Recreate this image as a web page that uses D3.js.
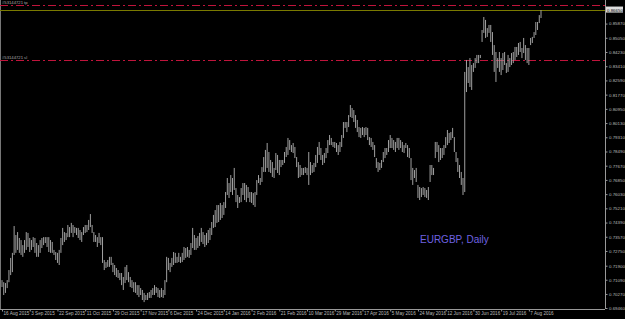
<!DOCTYPE html>
<html>
<head>
<meta charset="utf-8">
<script src="https://cdn.jsdelivr.net/npm/d3@7"></script>
<style>
  body { margin: 0; background: #000; }
  svg { display: block; }
</style>
</head>
<body>
<svg id="root"></svg>
<script>
// EURGBP daily bars (high / low), one entry per bar
const high = [
  0.7107,0.7095,0.7090,0.7107,0.7165,0.7235,0.7264,0.7419,0.7367,0.7384,
  0.7350,0.7338,0.7309,0.7338,0.7384,0.7379,0.7350,0.7338,0.7355,0.7350,
  0.7321,0.7309,0.7338,0.7350,0.7355,0.7355,0.7355,0.7355,0.7338,0.7327,
  0.7281,0.7269,0.7264,0.7281,0.7350,0.7408,0.7384,0.7379,0.7425,0.7413,
  0.7437,0.7425,0.7413,0.7408,0.7408,0.7396,0.7384,0.7413,0.7425,0.7425,
  0.7454,0.7488,0.7425,0.7384,0.7367,0.7355,0.7379,0.7355,0.7355,0.7223,
  0.7211,0.7223,0.7241,0.7241,0.7206,0.7194,0.7177,0.7165,0.7148,0.7148,
  0.7125,0.7183,0.7194,0.7153,0.7125,0.7107,0.7095,0.7095,0.7078,0.7078,
  0.7061,0.7050,0.7033,0.7021,0.7033,0.7038,0.7050,0.7061,0.7078,0.7067,
  0.7061,0.7050,0.7061,0.7050,0.7107,0.7241,0.7235,0.7206,0.7235,0.7269,
  0.7264,0.7241,0.7264,0.7241,0.7264,0.7298,0.7292,0.7298,0.7281,0.7321,
  0.7408,0.7367,0.7350,0.7361,0.7379,0.7408,0.7384,0.7367,0.7379,0.7396,
  0.7408,0.7442,0.7483,0.7511,0.7540,0.7540,0.7552,0.7540,0.7557,0.7615,
  0.7696,0.7667,0.7713,0.7696,0.7754,0.7638,0.7598,0.7586,0.7638,0.7667,
  0.7667,0.7656,0.7644,0.7615,0.7615,0.7609,0.7615,0.7684,0.7713,0.7696,
  0.7759,0.7817,0.7858,0.7898,0.7846,0.7800,0.7788,0.7754,0.7840,0.7829,
  0.7800,0.7800,0.7800,0.7846,0.7875,0.7927,0.7915,0.7886,0.7898,0.7875,
  0.7817,0.7788,0.7771,0.7754,0.7754,0.7759,0.7754,0.7846,0.7788,0.7771,
  0.7783,0.7829,0.7875,0.7904,0.7869,0.7829,0.7840,0.7869,0.7915,0.7944,
  0.7927,0.7904,0.7904,0.7898,0.7886,0.7904,0.7944,0.8019,0.8019,0.8019,
  0.8059,0.8117,0.8100,0.8088,0.8059,0.8031,0.7990,0.7985,0.7990,0.7985,
  0.7990,0.7985,0.7932,0.7927,0.7904,0.7886,0.7811,0.7788,0.7783,0.7800,
  0.7846,0.7869,0.7869,0.7915,0.7944,0.7927,0.7915,0.7904,0.7927,0.7927,
  0.7915,0.7904,0.7886,0.7898,0.7886,0.7869,0.7811,0.7754,0.7742,0.7754,
  0.7656,0.7644,0.7638,0.7644,0.7638,0.7627,0.7644,0.7771,0.7771,0.7754,
  0.7904,0.7904,0.7886,0.7869,0.7869,0.7886,0.7932,0.7973,0.7956,0.7961,
  0.7985,0.7932,0.7846,0.7811,0.7771,0.7731,0.7696,0.8308,0.8377,0.8336,
  0.8388,0.8348,0.8359,0.8388,0.8406,0.8406,0.8406,0.8550,0.8625,0.8608,
  0.8561,0.8579,0.8579,0.8538,0.8463,0.8423,0.8388,0.8423,0.8388,0.8417,
  0.8423,0.8359,0.8406,0.8388,0.8417,0.8423,0.8452,0.8452,0.8475,0.8481,
  0.8446,0.8504,0.8463,0.8446,0.8446,0.8504,0.8510,0.8538,0.8596,0.8596,
  0.8636,0.8665
];
const low = [
  0.7067,0.7021,0.7033,0.7061,0.7095,0.7136,0.7153,0.7252,0.7264,0.7281,
  0.7264,0.7252,0.7241,0.7264,0.7281,0.7298,0.7269,0.7281,0.7298,0.7264,
  0.7241,0.7241,0.7264,0.7292,0.7309,0.7321,0.7298,0.7269,0.7264,0.7264,
  0.7252,0.7223,0.7206,0.7194,0.7264,0.7309,0.7327,0.7338,0.7355,0.7355,
  0.7379,0.7355,0.7379,0.7367,0.7350,0.7338,0.7327,0.7367,0.7379,0.7384,
  0.7396,0.7413,0.7379,0.7327,0.7327,0.7298,0.7321,0.7309,0.7206,0.7165,
  0.7177,0.7183,0.7183,0.7194,0.7153,0.7136,0.7125,0.7119,0.7107,0.7078,
  0.7050,0.7090,0.7107,0.7095,0.7067,0.7061,0.7038,0.7033,0.7021,0.7009,
  0.7021,0.6992,0.6980,0.6992,0.6992,0.7004,0.7004,0.7021,0.7021,0.7033,
  0.7009,0.7004,0.7009,0.7004,0.7021,0.7095,0.7165,0.7153,0.7183,0.7194,
  0.7206,0.7206,0.7211,0.7206,0.7211,0.7223,0.7235,0.7241,0.7235,0.7252,
  0.7292,0.7281,0.7281,0.7292,0.7304,0.7327,0.7315,0.7298,0.7309,0.7321,
  0.7338,0.7367,0.7408,0.7413,0.7437,0.7442,0.7454,0.7465,0.7483,0.7523,
  0.7598,0.7581,0.7615,0.7598,0.7627,0.7557,0.7523,0.7552,0.7557,0.7598,
  0.7569,0.7557,0.7581,0.7557,0.7552,0.7540,0.7529,0.7598,0.7667,0.7656,
  0.7673,0.7731,0.7731,0.7754,0.7731,0.7725,0.7702,0.7696,0.7742,0.7725,
  0.7713,0.7759,0.7771,0.7783,0.7817,0.7829,0.7858,0.7846,0.7840,0.7811,
  0.7759,0.7696,0.7702,0.7713,0.7713,0.7725,0.7713,0.7656,0.7713,0.7725,
  0.7731,0.7759,0.7783,0.7829,0.7800,0.7771,0.7783,0.7811,0.7840,0.7886,
  0.7886,0.7875,0.7869,0.7846,0.7829,0.7846,0.7875,0.7927,0.7985,0.7961,
  0.7990,0.8048,0.8042,0.8019,0.7985,0.7961,0.7932,0.7927,0.7944,0.7932,
  0.7944,0.7915,0.7886,0.7875,0.7858,0.7817,0.7754,0.7731,0.7742,0.7754,
  0.7788,0.7811,0.7829,0.7846,0.7869,0.7869,0.7858,0.7846,0.7869,0.7858,
  0.7869,0.7846,0.7840,0.7869,0.7817,0.7811,0.7684,0.7656,0.7696,0.7673,
  0.7581,0.7569,0.7586,0.7598,0.7586,0.7581,0.7569,0.7673,0.7713,0.7713,
  0.7811,0.7846,0.7788,0.7800,0.7811,0.7829,0.7869,0.7886,0.7898,0.7915,
  0.7927,0.7846,0.7788,0.7731,0.7696,0.7656,0.7598,0.7615,0.8192,0.8244,
  0.8221,0.8204,0.8308,0.8331,0.8359,0.8359,0.8388,0.8481,0.8533,0.8504,
  0.8510,0.8533,0.8481,0.8406,0.8308,0.8250,0.8331,0.8308,0.8290,0.8319,
  0.8348,0.8302,0.8308,0.8336,0.8348,0.8359,0.8377,0.8394,0.8406,0.8423,
  0.8388,0.8417,0.8377,0.8359,0.8348,0.8463,0.8475,0.8504,0.8521,0.8550,
  0.8590,0.8619
];

// time axis labels, one every 16 bars
const dateLabels = ["16 Aug 2015","3 Sep 2015","22 Sep 2015","11 Oct 2015","29 Oct 2015",
  "17 Nov 2015","6 Dec 2015","24 Dec 2015","14 Jan 2016","2 Feb 2016","21 Feb 2016",
  "10 Mar 2016","29 Mar 2016","17 Apr 2016","5 May 2016","24 May 2016","12 Jun 2016",
  "30 Jun 2016","19 Jul 2016","7 Aug 2016"];
const barsPerLabel = 16;

// price scale labels
const priceTicks = [0.69460,0.70270,0.71090,0.71900,0.72750,0.73570,0.74390,0.75210,
  0.76030,0.76850,0.77670,0.78490,0.79310,0.80130,0.80950,0.81770,0.82590,0.83410,
  0.84230,0.85050,0.85870];

const bidPrice = 0.8665;
const tpPrice = 0.8694;
const slPrice = 0.8377;
const orderId = "#53144721";

const W = 625, H = 319;
const plotRight = 605, plotBottom = 309;
const tinyFont = "Liberation Sans, Arial, sans-serif";

const svg = d3.select("#root").attr("width", W).attr("height", H)
  .style("background", "#000");

const xScale = d3.scaleLinear([0, high.length - 1], [2, 541]);
const yScale = d3.scaleLinear([0.6946, 0.8723], [308, 0]);

// left frame edge
svg.append("line").attr("x1", 0.5).attr("x2", 0.5).attr("y1", 0).attr("y2", plotBottom)
  .attr("stroke", "#777");

// bid line
svg.append("line")
  .attr("x1", 0).attr("x2", plotRight)
  .attr("y1", Math.round(yScale(bidPrice)) + 0.5).attr("y2", Math.round(yScale(bidPrice)) + 0.5)
  .attr("stroke", "#7a7a00").attr("stroke-width", 1);

// order lines (tp / sl)
[[tpPrice, "tp"], [slPrice, "sl"]].forEach(d => {
  const y = Math.round(yScale(d[0])) + 0.5;
  svg.append("line")
    .attr("x1", 0).attr("x2", plotRight)
    .attr("y1", y).attr("y2", y)
    .attr("stroke", "#c0143c").attr("stroke-width", 1)
    .attr("stroke-dasharray", "8,3,2,3");
  svg.append("text")
    .attr("x", 2).attr("y", y - 1.5)
    .attr("fill", "#aaa")
    .attr("font-family", tinyFont)
    .attr("font-size", 4.2)
    .text(orderId + " " + d[1]);
});

// bars
svg.append("g").selectAll("line")
  .data(high)
  .join("line")
  .attr("x1", (d, i) => xScale(i)).attr("x2", (d, i) => xScale(i))
  .attr("y1", d => yScale(d))
  .attr("y2", (d, i) => yScale(low[i]))
  .attr("stroke", "#a0a0a0")
  .attr("stroke-width", 1);

// right price axis
const yAxis = d3.axisRight(yScale)
  .tickValues(priceTicks)
  .tickSize(2)
  .tickPadding(1.5)
  .tickFormat(d3.format(".5f"));
const gy = svg.append("g")
  .attr("transform", `translate(${plotRight + 0.5},0)`)
  .call(yAxis);
gy.select(".domain").attr("stroke", "#999").attr("d", `M0,0V${plotBottom}`);
gy.selectAll(".tick line").attr("stroke", "#999");
gy.selectAll(".tick text")
  .attr("fill", "#bbb")
  .attr("font-family", tinyFont)
  .attr("font-size", 4.4);

// bid price box
const bidY = yScale(bidPrice);
svg.append("rect")
  .attr("x", plotRight + 1).attr("y", bidY - 3.5)
  .attr("width", 17).attr("height", 6)
  .attr("fill", "#ddd");
svg.append("text")
  .attr("x", plotRight + 2).attr("y", bidY + 1.5)
  .attr("fill", "#000")
  .attr("font-family", tinyFont)
  .attr("font-size", 4.4)
  .text(d3.format(".5f")(bidPrice));

// bottom time axis
const xAxis = d3.axisBottom(xScale)
  .tickValues(dateLabels.map((d, i) => i * barsPerLabel))
  .tickSize(2)
  .tickFormat((d, i) => dateLabels[i]);
const gx = svg.append("g")
  .attr("transform", `translate(0,${plotBottom + 0.5})`)
  .call(xAxis);
gx.select(".domain").attr("stroke", "#999").attr("d", `M0,0H${plotRight}`);
gx.selectAll(".tick line").attr("stroke", "#999");
gx.selectAll(".tick text")
  .attr("fill", "#bbb")
  .attr("text-anchor", "start")
  .attr("x", 1)
  .attr("y", 2)
  .attr("dy", "0.71em")
  .attr("font-family", tinyFont)
  .attr("font-size", 4.6);

// symbol caption
svg.append("text")
  .attr("x", 420).attr("y", 243)
  .attr("fill", "#6f62e0")
  .attr("font-family", "Liberation Sans, Arial, sans-serif")
  .attr("font-size", 10)
  .text("EURGBP, Daily");
</script>
</body>
</html>
